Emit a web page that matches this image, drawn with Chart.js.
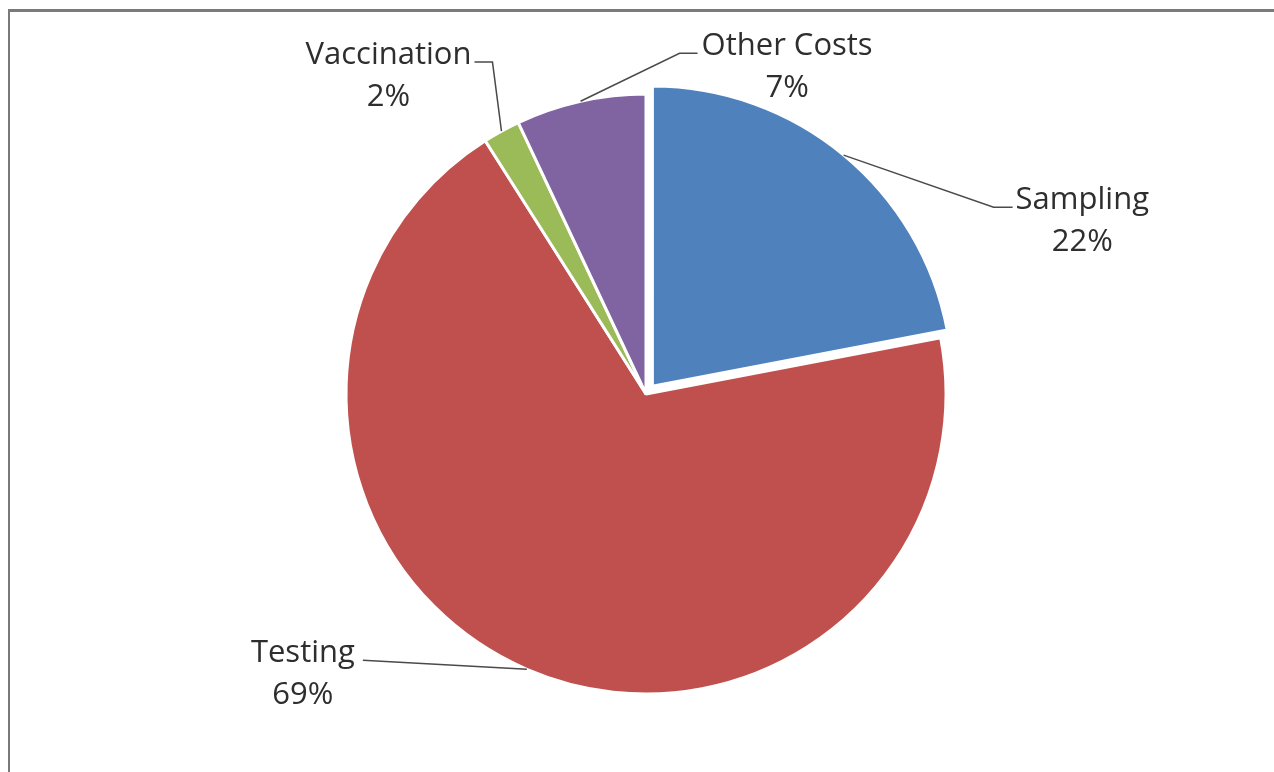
<!DOCTYPE html>
<html>
<head>
<meta charset="utf-8">
<title>Cost breakdown</title>
<script src="https://cdn.jsdelivr.net/npm/chart.js@4.4.0/dist/chart.umd.min.js"></script>
<style>
    html, body { margin: 0; padding: 0; background: #fff; overflow: hidden; }
    #wrap { position: relative; width: 1274px; height: 772px; }
    #frame {
        position: absolute; left: 8px; top: 9px; width: 1400px; height: 900px;
        border-left: 2px solid #7a7a7a; border-top: 3px solid #7a7a7a;
        box-shadow: -1px -1px 0 #c8c8c8 inset;
        pointer-events: none;
    }
    canvas { position: absolute; left: 0; top: 0; }
</style>
</head>
<body>
<div id="wrap">
    <div id="frame"></div>
    <canvas id="costPie" width="1274" height="772"></canvas>
</div>
<script>
// data
const categories = ["Sampling", "Testing", "Vaccination", "Other Costs"];
const shares = [22, 69, 2, 7];
const sliceColors = ["#4F81BD", "#C0504D", "#9BBB59", "#8064A2"];
// chart.js moves an arc by offset / 4, so 40 gives a 10px pull-out
const sliceOffset = [40, 0, 0, 0];

// label placement: elbow relative to the slice anchor, then horizontal stub
const labelElbow = [[150, 52], [-164, -9], [-9, -69], [99, -48]];
const labelStub = [19, 0, -18, 18];
const labelGap = [3, 8, 3, 4];

const textColor = "#2e2e2e";
const lineColor = "#4a4a4a";
const labelFont = '31px "Open Sans"';
const lineHeight = 42;

// Excel-style data labels with leader lines
const leaderLabels = {
    id: "leaderLabels",
    afterDatasetsDraw(chart) {
        const ctx = chart.ctx;
        const arcs = chart.getDatasetMeta(0).data;
        ctx.save();
        ctx.font = labelFont;
        arcs.forEach(function (arc, i) {
            const p = arc.getProps(["x", "y", "startAngle", "endAngle", "outerRadius"], true);
            const mid = (p.startAngle + p.endAngle) / 2;
            const r = p.outerRadius + sliceOffset[i] / 4;
            const ax = p.x + Math.cos(mid) * r;
            const ay = p.y + Math.sin(mid) * r;
            const ex = ax + labelElbow[i][0];
            const ey = ay + labelElbow[i][1];
            const sx = ex + labelStub[i];

            ctx.strokeStyle = lineColor;
            ctx.lineWidth = 1.5;
            ctx.beginPath();
            ctx.moveTo(ax, ay);
            ctx.lineTo(ex, ey);
            ctx.lineTo(sx, ey);
            ctx.stroke();

            const line1 = categories[i];
            const line2 = shares[i] + "%";
            const w = Math.max(ctx.measureText(line1).width, ctx.measureText(line2).width);
            const right = labelStub[i] > 0 || (labelStub[i] === 0 && labelElbow[i][0] > 0);
            const cx = right ? sx + labelGap[i] + w / 2 : sx - labelGap[i] - w / 2;
            const baseY = ey + 2;

            ctx.fillStyle = textColor;
            ctx.textAlign = "center";
            ctx.textBaseline = "alphabetic";
            ctx.fillText(line1, cx, baseY);
            ctx.fillText(line2, cx, baseY + lineHeight);
        });
        ctx.restore();
    },
};

function drawChart() {
    const ctx = document.getElementById("costPie").getContext("2d");
    new Chart(ctx, {
        type: "pie",
        data: {
            labels: categories,
            datasets: [
                {
                    data: shares,
                    backgroundColor: sliceColors,
                    borderColor: "#ffffff",
                    borderWidth: 3,
                    offset: sliceOffset,
                    hoverOffset: 0,
                    radius: 300,
                },
            ],
        },
        options: {
            responsive: false,
            animation: false,
            layout: { padding: { left: 18, top: 16, right: 0, bottom: 0 } },
            plugins: {
                legend: { display: false },
                tooltip: { enabled: false },
            },
        },
        plugins: [leaderLabels],
    });
}

if (document.fonts && document.fonts.load) {
    document.fonts.load(labelFont).then(drawChart, drawChart);
} else {
    drawChart();
}
</script>
</body>
</html>
